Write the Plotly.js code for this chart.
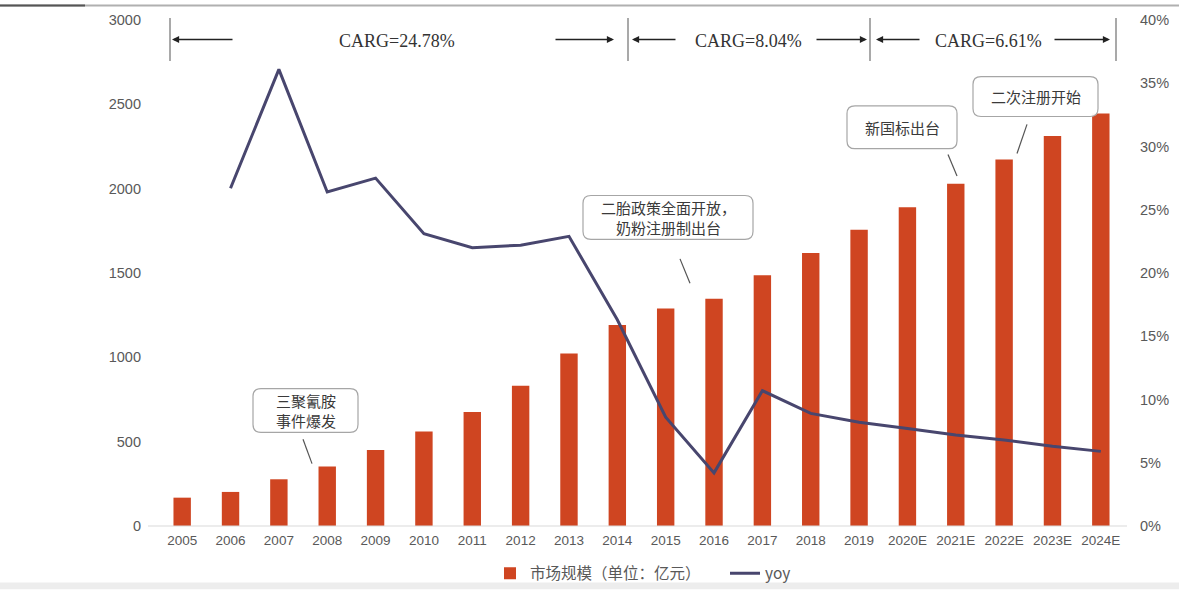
<!DOCTYPE html>
<html><head><meta charset="utf-8">
<script src="https://cdn.plot.ly/plotly-3.0.1.min.js"></script>
<style>html,body{margin:0;padding:0;background:#fff}#chart{width:1179px;height:603px}</style>
</head><body><div id="chart"></div>
<script>
const years = ['2005','2006','2007','2008','2009','2010','2011','2012','2013','2014','2015','2016','2017','2018','2019','2020E','2021E','2022E','2023E','2024E'];
const marketSize = [168,202,277,353,451,561,676,832,1023,1191,1289,1347,1486,1618,1757,1890,2029,2173,2312,2445];
const yoy = [null,0.267,0.361,0.264,0.275,0.231,0.220,0.222,0.229,0.163,0.086,0.042,0.107,0.089,0.082,0.077,0.072,0.068,0.063,0.059];
const cagrLabels = ['CARG=24.78%','CARG=8.04%','CARG=6.61%'];
const callouts = ['三聚氰胺<br>事件爆发','二胎政策全面开放，<br>奶粉注册制出台','新国标出台','二次注册开始'];

const W=1179,H=603,L=158,R=1125,T=20,B=539;
const px = x => (x-L)/(R-L);
const py = y => (B-y)/(B-T);
const cjk = '"Noto Sans CJK SC", "Noto Sans", sans-serif';
const sans = '"Liberation Sans", Arial, sans-serif';
const serif = '"Liberation Serif", "Times New Roman", serif';

const shapes = [];
const annotations = [];
function line(x0,y0,x1,y1,color,w){shapes.push({type:'line',xref:'paper',yref:'paper',x0:px(x0),y0:py(y0),x1:px(x1),y1:py(y1),line:{color:color,width:w}});}
function rrect(x0,y0,x1,y1,r){
  const p=(x,y)=>px(x).toFixed(5)+','+py(y).toFixed(5);
  const d='M'+p(x0+r,y0)+' L'+p(x1-r,y0)+' Q'+p(x1,y0)+' '+p(x1,y0+r)+' L'+p(x1,y1-r)+' Q'+p(x1,y1)+' '+p(x1-r,y1)+
    ' L'+p(x0+r,y1)+' Q'+p(x0,y1)+' '+p(x0,y1-r)+' L'+p(x0,y0+r)+' Q'+p(x0,y0)+' '+p(x0+r,y0)+' Z';
  shapes.push({type:'path',xref:'paper',yref:'paper',path:d,line:{color:'#a6a6a6',width:1.2},fillcolor:'rgba(255,255,255,0.95)'});
}
function arrow(head,tail,y){
  annotations.push({xref:'paper',yref:'paper',x:px(head),y:py(y),ax:tail-head,ay:0,text:'',showarrow:true,arrowhead:2,arrowsize:1.1,arrowwidth:1.3,arrowcolor:'#222'});
}
function label(text,x,y,font){annotations.push({xref:'paper',yref:'paper',x:px(x),y:py(y),text:text,showarrow:false,xanchor:'center',yanchor:'middle',font:font});}

// top frame line & bottom band
shapes.push({type:'line',xref:'paper',yref:'paper',x0:px(0),x1:px(W),y0:py(5),y1:py(5),line:{color:'#b0b0b0',width:2}});
shapes.push({type:'line',xref:'paper',yref:'paper',x0:px(0),x1:px(85),y0:py(5),y1:py(5),line:{color:'#555',width:2}});
shapes.push({type:'rect',xref:'paper',yref:'paper',x0:px(0),x1:px(W),y0:py(597),y1:py(604),line:{width:0},fillcolor:'#ededed'});
// x axis line
line(148,539,1127,539,'#d9d9d9',1.2);

// CAGR separators and arrows
[170,628,870,1116].forEach(x=>line(x,18,x,62,'#8c8c8c',1.5));
arrow(172,234,40); arrow(614,554,40);
arrow(632,677,40); arrow(867,815,40);
arrow(876,921,40); arrow(1110,1053,40);
label(cagrLabels[0],397,42,{family:serif,size:18,color:'#333'});
label(cagrLabels[1],748,42,{family:serif,size:18,color:'#333'});
label(cagrLabels[2],988,42,{family:serif,size:18,color:'#333'});

// callouts
const cf={family:cjk,size:15,color:'#3a3a3a'};
rrect(253,398,358,443,8); label(callouts[0],305.5,420.5,cf); line(303,450,312,475,'#555',1.2);
rrect(583,200,753,245,8); label(callouts[1],668,222.5,cf); line(680,265,690,290,'#555',1.2);
rrect(847,108,957,152,8); label(callouts[2],902,130,cf); line(948,158,957,180,'#555',1.2);
rrect(973,78,1098,119,8); label(callouts[3],1035.5,98.5,cf); line(1027,127,1017,157,'#555',1.2);

const data = [
  {type:'bar',x:years,y:marketSize,name:'市场规模（单位：亿元）',marker:{color:'#cf4521'},yaxis:'y',hoverinfo:'x+y'},
  {type:'scatter',mode:'lines',x:years,y:yoy,name:'yoy',line:{color:'#48466e',width:3},yaxis:'y2',connectgaps:false}
];
const layout = {
  width:W,height:H,
  margin:{l:L,r:W-R,t:T,b:H-B},
  paper_bgcolor:'#fff',plot_bgcolor:'rgba(0,0,0,0)',
  bargap:0.64,
  showlegend:true,
  legend:{orientation:'h',x:px(490),xanchor:'left',y:py(588),yanchor:'middle',font:{family:cjk,size:15.5,color:'#595959'},bgcolor:'rgba(0,0,0,0)',itemwidth:30,entrywidth:190,entrywidthmode:'pixels'},
  xaxis:{type:'category',showline:false,showgrid:false,zeroline:false,ticks:'',tickfont:{family:sans,size:13.5,color:'#595959'},ticklabelstandoff:4},
  yaxis:{range:[0,3000],tickvals:[0,500,1000,1500,2000,2500,3000],showgrid:false,zeroline:false,showline:false,ticks:'',tickfont:{family:sans,size:14.5,color:'#595959'},ticklabelstandoff:16},
  yaxis2:{range:[0,0.4],overlaying:'y',side:'right',tickvals:[0,0.05,0.1,0.15,0.2,0.25,0.3,0.35,0.4],tickformat:'.0%',showgrid:false,zeroline:false,showline:false,ticks:'',tickfont:{family:sans,size:14.5,color:'#595959'},ticklabelstandoff:14},
  shapes:shapes,annotations:annotations
};
Plotly.newPlot('chart',data,layout,{displayModeBar:false,staticPlot:true});
</script></body></html>
